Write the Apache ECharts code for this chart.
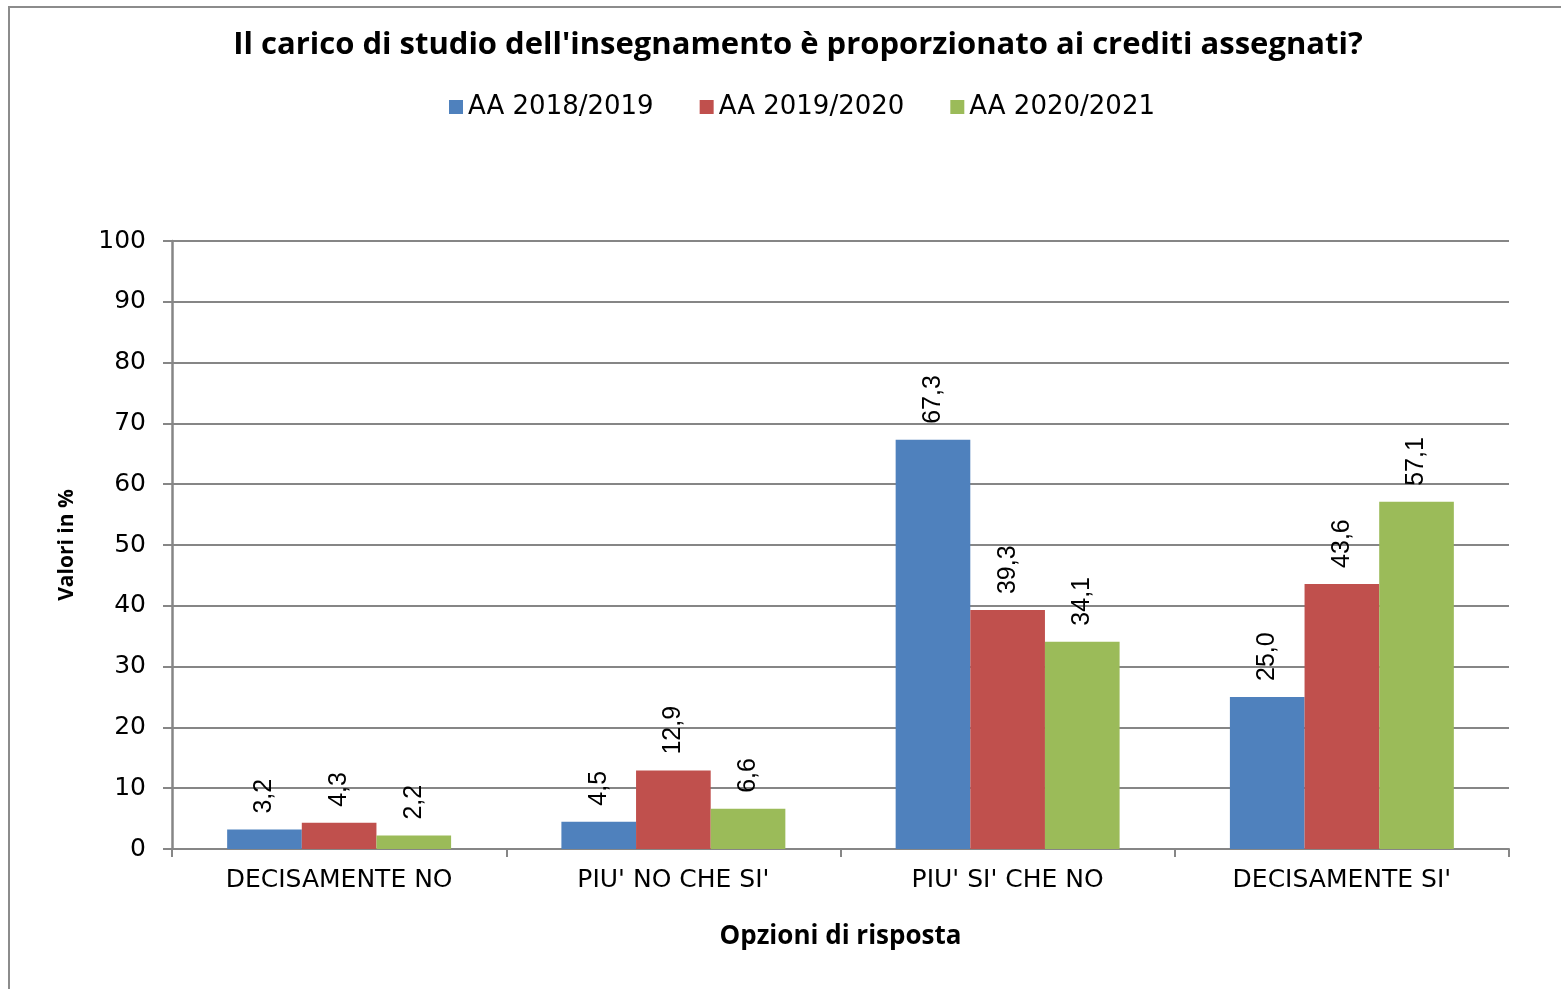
<!DOCTYPE html>
<html>
<head>
<meta charset="utf-8">
<script src="https://cdn.jsdelivr.net/npm/echarts@6/dist/echarts.min.js"></script>
<style>
  html, body { margin: 0; padding: 0; background: #fff; }
  #chart { width: 1561px; height: 989px; }
</style>
</head>
<body>
<div id="chart"></div>
<script>
const categories = ['DECISAMENTE NO', "PIU' NO CHE SI'", "PIU' SI' CHE NO", "DECISAMENTE SI'"];
const seriesNames = ['AA 2018/2019', 'AA 2019/2020', 'AA 2020/2021'];
const aa2018 = [3.2, 4.5, 67.3, 25.0];
const aa2019 = [4.3, 12.9, 39.3, 43.6];
const aa2020 = [2.2, 6.6, 34.1, 57.1];
const colors = ['#4F81BD', '#C0504D', '#9BBB59'];

const chart = echarts.init(document.getElementById('chart'));

const gray = '#868686';

const makeSeries = (name, data, color) => ({
  name,
  type: 'bar',
  data,
  barGap: 0,
  barCategoryGap: '33%',
  itemStyle: { color },
  label: {
    show: true,
    position: 'top',
    rotate: 90,
    align: 'left',
    verticalAlign: 'middle',
    distance: 16,
    color: '#000',
    fontFamily: 'Liberation Sans',
    fontSize: 25,
    formatter: (p) => p.value.toFixed(1).replace('.', ','),
  },
});

const option = {
  backgroundColor: '#fff',
  animation: false,
  graphic: [
    {
      type: 'rect',
      shape: { x: 9, y: 7, width: 1700, height: 1100 },
      style: { fill: 'none', stroke: '#8c8c8c', lineWidth: 2 },
      silent: true,
    },
  ],
  title: {
    text: "Il carico di studio dell'insegnamento è proporzionato ai crediti assegnati?",
    left: 793,
    textAlign: 'center',
    top: 25,
    textStyle: { fontFamily: 'Open Sans', fontWeight: 'bold', fontSize: 31, color: '#000' },
  },
  legend: {
    data: seriesNames,
    left: 444,
    top: 89,
    icon: 'rect',
    itemWidth: 14,
    itemHeight: 14,
    itemGap: 46,
    textStyle: { fontFamily: 'DejaVu Sans', fontSize: 26, color: '#000' },
  },
  grid: { left: 172, right: 52, top: 241, bottom: 140 },
  xAxis: {
    type: 'category',
    data: categories,
    name: 'Opzioni di risposta',
    nameLocation: 'middle',
    nameGap: 75,
    nameTextStyle: { fontFamily: 'Open Sans', fontWeight: 'bold', fontSize: 26, color: '#000' },
    axisLine: { lineStyle: { color: gray, width: 2 } },
    axisTick: { show: true, length: 8, lineStyle: { color: gray, width: 2 } },
    axisLabel: { color: '#000', fontFamily: 'DejaVu Sans', fontSize: 25, margin: 19 },
  },
  yAxis: {
    type: 'value',
    min: 0,
    max: 100,
    interval: 10,
    name: 'Valori in %',
    nameLocation: 'middle',
    nameGap: 94,
    nameTextStyle: { fontFamily: 'Open Sans', fontWeight: 'bold', fontSize: 21, color: '#000' },
    axisLine: { show: true, lineStyle: { color: gray, width: 2.5 } },
    axisTick: { show: true, length: 9, lineStyle: { color: gray, width: 2 } },
    axisLabel: { color: '#000', fontFamily: 'DejaVu Sans', fontSize: 25, margin: 26 },
    splitLine: { lineStyle: { color: gray, width: 2 } },
  },
  series: [
    makeSeries(seriesNames[0], aa2018, colors[0]),
    makeSeries(seriesNames[1], aa2019, colors[1]),
    makeSeries(seriesNames[2], aa2020, colors[2]),
  ],
};

chart.setOption(option);
</script>
</body>
</html>
